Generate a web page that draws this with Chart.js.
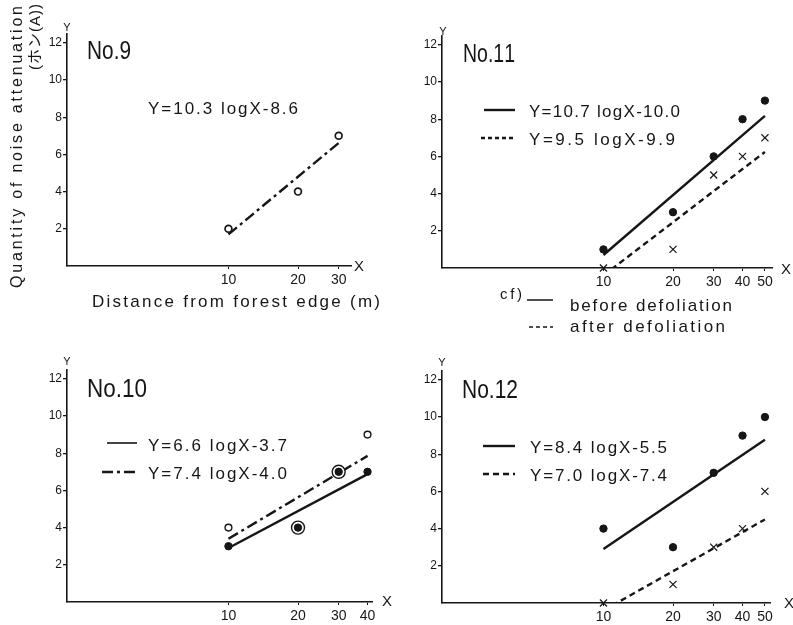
<!DOCTYPE html>
<html>
<head>
<meta charset="utf-8">
<script src="https://cdn.jsdelivr.net/npm/chart.js@4.4.1/dist/chart.umd.min.js"></script>
<style>
  html, body { margin: 0; padding: 0; background: #fff; }
  #page { position: relative; width: 793px; height: 625px; overflow: hidden; background: #fff; }
  #page canvas { position: absolute; }
</style>
</head>
<body>
<div id="page">
  <canvas id="p9"></canvas>
  <canvas id="p11"></canvas>
  <canvas id="p10"></canvas>
  <canvas id="p12"></canvas>
</div>
<script>
// Noise attenuation (phon(A)) against distance from the forest edge (m), four stands.

// ---- tick labels ----
const yTicks = [2, 4, 6, 8, 10, 12];
const xTicks9 = [10, 20, 30];
const xTicks10 = [10, 20, 30, 40];
const xTicks11 = [10, 20, 30, 40, 50];
const xTicks12 = [10, 20, 30, 40, 50];

// ---- No.9 ----
const dist9 = [10, 20, 30];
const atten9 = [2, 4, 7];
const fit9 = [10.3, -8.6];          // Y = a logX + b

// ---- No.10 ----
const dist10 = [10, 20, 30, 40];
const atten10Solid = [3, 4, 7, 7];
const atten10Open = [4, 4, 7, 9];
const fit10Solid = [6.6, -3.7];
const fit10Open = [7.4, -4.0];

// ---- No.11 (before / after defoliation) ----
const dist11 = [10, 20, 30, 40, 50];
const before11 = [1, 3, 6, 8, 9];
const after11 = [0, 1, 5, 6, 7];
const fit11Before = [10.7, -10.0];
const fit11After = [9.5, -9.9];

// ---- No.12 (before / after defoliation) ----
const dist12 = [10, 20, 30, 40, 50];
const before12 = [4, 3, 7, 9, 10];
const after12 = [0, 1, 3, 4, 6];
const fit12Before = [8.4, -5.5];
const fit12After = [7.0, -7.4];

// ---- drawing setup ----
const INK = '#161616';
const FONT = "'Liberation Sans', 'Noto Sans CJK JP', sans-serif";
const PX_PER_DECADE = 231;
const PX_PER_UNIT = 18.6;
const X_MIN = 2;
const Y_MAX = 12.5;
const DASH_DOT = [11, 4, 3, 4];
const DASHED = [6, 4];

const pts = (xs, ys) => xs.map((x, i) => ({ x, y: ys[i] }));
const fitLine = (coef, xs) => [xs[0], xs[xs.length - 1]].map(x => ({ x, y: coef[0] * Math.log10(x) + coef[1] }));
const eqText = coef => 'Y=' + coef[0].toFixed(1) + ' logX-' + Math.abs(coef[1]).toFixed(1);

function markers(data, style) {
  const base = { data, showLine: false, borderColor: INK, clip: false, order: 0 };
  if (style === 'dot') return Object.assign(base, { pointStyle: 'circle', pointRadius: 3.7, pointBackgroundColor: INK, borderWidth: 1 });
  if (style === 'open') return Object.assign(base, { pointStyle: 'circle', pointRadius: 3.4, pointBackgroundColor: '#fff', borderWidth: 1.7 });
  return Object.assign(base, { pointStyle: 'crossRot', pointRadius: 5, borderWidth: 1.2 });
}
function fitSet(data, dash) {
  return { data, showLine: true, pointRadius: 0, borderColor: INK, borderWidth: 2.4, borderDash: dash,
           clip: { left: 0, top: 0, right: 0, bottom: 0 }, order: 2 };
}

// Text spread (letter spacing) or squeezed (horizontal scale) to a given width
function drawFitted(ctx, text, align, w, squeeze) {
  const chars = Array.from(text);
  const widths = chars.map(c => ctx.measureText(c).width);
  const sum = widths.reduce((a, b) => a + b, 0);
  let ls = 0, sx = 1;
  if (w && squeeze) sx = w / sum;
  else if (w) ls = (w - sum) / Math.max(chars.length - 1, 1);
  const total = (sum + ls * (chars.length - 1)) * sx;
  const start = align === 'center' ? -total / 2 : align === 'right' ? -total : 0;
  ctx.translate(start, 0);
  ctx.scale(sx, 1);
  ctx.textAlign = 'left';
  let cur = 0;
  chars.forEach((c, i) => { ctx.fillText(c, cur, 0); cur += widths[i] + ls; });
}

// Panel labels, equations, legend samples and axis letters
const pageText = {
  id: 'pageText',
  afterDraw(chart, args, opts) {
    const ctx = chart.ctx;
    const [ox, oy] = opts.origin;
    (opts.items || []).forEach(it => {
      ctx.save();
      ctx.translate(it.x - ox, it.y - oy);
      if (it.type === 'sample') {
        const ds = chart.data.datasets[it.ds];
        ctx.strokeStyle = INK;
        ctx.lineWidth = it.lw || ds.borderWidth;
        ctx.setLineDash(it.dash || ds.borderDash || []);
        ctx.beginPath();
        ctx.moveTo(0, 0);
        ctx.lineTo(it.len, 0);
        ctx.stroke();
      } else {
        if (it.rotate) ctx.rotate(it.rotate);
        ctx.fillStyle = INK;
        ctx.font = (it.size || 16) + 'px ' + FONT;
        ctx.textBaseline = 'middle';
        drawFitted(ctx, it.text, it.align || 'left', it.w, it.squeeze);
      }
      ctx.restore();
    });
  }
};

function makePanel(cfg) {
  const canvas = document.getElementById(cfg.id);
  canvas.width = cfg.cw; canvas.height = cfg.ch;
  Object.assign(canvas.style, { left: cfg.cx + 'px', top: cfg.cy + 'px', width: cfg.cw + 'px', height: cfg.ch + 'px' });
  const T = cfg.B - Y_MAX * PX_PER_UNIT;
  const R = cfg.L + PX_PER_DECADE * Math.log10(cfg.xMax / X_MIN);
  const YW = 40, XH = 20;
  const padding = {
    left: cfg.L - cfg.cx - YW,
    top: T - cfg.cy,
    right: cfg.cx + cfg.cw - R,
    bottom: cfg.cy + cfg.ch - cfg.B - XH
  };
  return new Chart(canvas, {
    type: 'scatter',
    data: { datasets: cfg.datasets },
    options: {
      responsive: false, animation: false, devicePixelRatio: 1, events: [],
      layout: { padding },
      plugins: {
        legend: { display: false },
        tooltip: { enabled: false },
        pageText: { origin: [cfg.cx, cfg.cy], items: cfg.items }
      },
      scales: {
        x: {
          type: 'logarithmic', min: X_MIN, max: cfg.xMax,
          afterBuildTicks: s => { s.ticks = cfg.xTicks.map(v => ({ value: v })); },
          afterFit: s => { s.height = XH; s.paddingLeft = 0; s.paddingRight = 0; },
          ticks: { autoSkip: false, maxRotation: 0, padding: 3, color: INK,
                   font: { family: FONT, size: 14 }, callback: v => String(v) },
          grid: { display: true, drawOnChartArea: false, drawTicks: true, tickLength: 3, color: INK, lineWidth: 1 },
          border: { display: true, color: INK, width: 1.6 }
        },
        y: {
          min: 0, max: Y_MAX,
          afterBuildTicks: s => { s.ticks = yTicks.map(v => ({ value: v })); },
          afterFit: s => { s.width = YW; s.paddingTop = 0; s.paddingBottom = 0; },
          ticks: { padding: 1, color: INK, font: { family: FONT, size: 12 }, callback: v => String(v) },
          grid: { display: true, drawOnChartArea: false, drawTicks: true, tickLength: 4, color: INK, lineWidth: 1.3 },
          border: { display: true, color: INK, width: 1.6 }
        }
      }
    },
    plugins: [pageText]
  });
}

// ---- No.9 ----
makePanel({
  id: 'p9', cx: 0, cy: 0, cw: 396, ch: 340, L: 67, B: 266, xMax: 34, xTicks: xTicks9,
  datasets: [
    markers(pts(dist9, atten9), 'open'),
    fitSet(fitLine(fit9, dist9), DASH_DOT)
  ],
  items: [
    { text: 'No.9', x: 87, y: 52, size: 25, w: 44, squeeze: true },
    { text: eqText(fit9), x: 148, y: 109, size: 17, w: 150 },
    { text: 'Y', x: 67, y: 28, size: 11, align: 'center' },
    { text: 'X', x: 359, y: 267, size: 15, align: 'center' },
    { text: 'Distance from forest edge (m)', x: 92, y: 302, size: 17, w: 288 },
    { text: 'Quantity of noise attenuation', x: 18, y: 6, size: 16, w: 282, align: 'right', rotate: -Math.PI / 2 },
    { text: '(ホン(A))', x: 36, y: 4, size: 15, w: 66, align: 'right', rotate: -Math.PI / 2 }
  ]
});

// ---- No.11 ----
makePanel({
  id: 'p11', cx: 396, cy: 0, cw: 397, ch: 340, L: 442, B: 268, xMax: 54, xTicks: xTicks11,
  datasets: [
    markers(pts(dist11, before11), 'dot'),
    markers(pts(dist11, after11), 'cross'),
    fitSet(fitLine(fit11Before, dist11), []),
    fitSet(fitLine(fit11After, dist11), DASHED)
  ],
  items: [
    { text: 'No.11', x: 463, y: 55, size: 25, w: 52, squeeze: true },
    { type: 'sample', ds: 2, x: 484, y: 110, len: 31 },
    { text: eqText(fit11Before), x: 529, y: 112, size: 17, w: 151 },
    { type: 'sample', ds: 3, x: 481, y: 138, len: 34, dash: [4, 3] },
    { text: eqText(fit11After), x: 529, y: 140, size: 17, w: 146 },
    { text: 'Y', x: 443, y: 32, size: 11, align: 'center' },
    { text: 'X', x: 786, y: 270, size: 15, align: 'center' },
    { text: 'cf)', x: 500, y: 295, size: 15, w: 22 },
    { type: 'sample', ds: 2, x: 527, y: 300, len: 26, lw: 1.5 },
    { text: 'before defoliation', x: 570, y: 306, size: 17, w: 162 },
    { type: 'sample', ds: 3, x: 529, y: 327, len: 24, lw: 1.3, dash: [4, 3] },
    { text: 'after defoliation', x: 570, y: 327, size: 17, w: 155 }
  ]
});

// ---- No.10 ----
makePanel({
  id: 'p10', cx: 0, cy: 340, cw: 396, ch: 285, L: 67, B: 602, xMax: 42, xTicks: xTicks10,
  datasets: [
    markers(pts(dist10, atten10Solid), 'dot'),
    Object.assign(markers(pts(dist10, atten10Open), 'open'), {
      order: 1,
      pointRadius: c => (atten10Open[c.dataIndex] === atten10Solid[c.dataIndex] ? 6.5 : 3.4),
      borderWidth: 1.4
    }),
    fitSet(fitLine(fit10Solid, dist10), []),
    fitSet(fitLine(fit10Open, dist10), DASH_DOT)
  ],
  items: [
    { text: 'No.10', x: 87, y: 390, size: 25, w: 60, squeeze: true },
    { type: 'sample', ds: 2, x: 107, y: 443, len: 30, lw: 1.6 },
    { text: eqText(fit10Solid), x: 148, y: 446, size: 17, w: 139 },
    { type: 'sample', ds: 3, x: 102, y: 472, len: 36 },
    { text: eqText(fit10Open), x: 148, y: 474, size: 17, w: 139 },
    { text: 'Y', x: 67, y: 362, size: 11, align: 'center' },
    { text: 'X', x: 387, y: 602, size: 15, align: 'center' }
  ]
});

// ---- No.12 ----
makePanel({
  id: 'p12', cx: 396, cy: 340, cw: 397, ch: 285, L: 442, B: 603, xMax: 53, xTicks: xTicks12,
  datasets: [
    markers(pts(dist12, before12), 'dot'),
    markers(pts(dist12, after12), 'cross'),
    fitSet(fitLine(fit12Before, dist12), []),
    fitSet(fitLine(fit12After, dist12), DASHED)
  ],
  items: [
    { text: 'No.12', x: 462, y: 391, size: 25, w: 56, squeeze: true },
    { type: 'sample', ds: 2, x: 483, y: 446, len: 32 },
    { text: eqText(fit12Before), x: 530, y: 448, size: 17, w: 137 },
    { type: 'sample', ds: 3, x: 483, y: 474, len: 32 },
    { text: eqText(fit12After), x: 530, y: 476, size: 17, w: 137 },
    { text: 'Y', x: 442, y: 363, size: 11, align: 'center' },
    { text: 'X', x: 789, y: 604, size: 15, align: 'center' }
  ]
});
</script>
</body>
</html>
